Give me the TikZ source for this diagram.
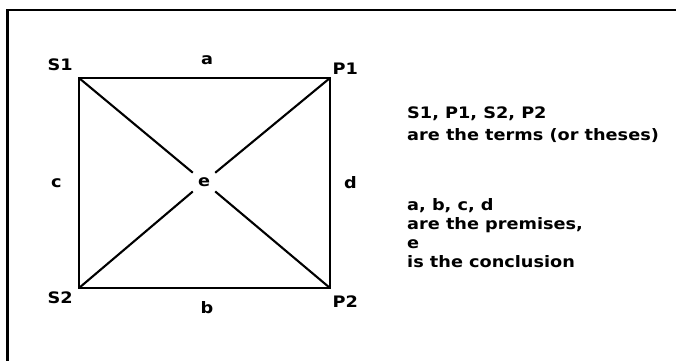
\documentclass[tikz,border=0pt]{standalone}
\usepackage{fontspec}
\setmainfont{DejaVu Sans}[FakeStretch=1.12]
\usepackage{tikz}
\usetikzlibrary{positioning}
\newcommand{\squarefont}{\fontsize{15.8}{19}\selectfont\bfseries}
\tikzset{
  cornerlabel/.style={
    inner sep=0pt,
    font=\squarefont
  },
  edgelabel/.style={
    inner sep=0pt,
    font=\squarefont
  },
  centerlabel/.style={
    rectangle,
    minimum size=22pt,
    inner sep=0pt,
    font=\squarefont
  },
  notetext/.style={
    align=left,
    anchor=north west,
    inner sep=0pt,
    font=\squarefont
  },
  sideline/.style={
    line width=2.8pt,
    draw=black
  },
  diagline/.style={
    line width=2.1pt,
    draw=black
  },
  frameline/.style={
    line width=2.3pt,
    draw=black
  }
}

\begin{document}
\begin{tikzpicture}[x=1pt,y=1pt]
\useasboundingbox (0,0) rectangle (676,360);
\draw[frameline] (7.5,-10) -- (7.5,350) -- (690,350);

\coordinate (S1) at (79,282);
\coordinate (P1) at (330,282);
\coordinate (S2) at (79,72);
\coordinate (P2) at (330,72);
\node[centerlabel] (e) at (204,178) {e};

\node[cornerlabel, above left=7pt and 6pt of S1] (s1label) {S1};
\node[cornerlabel, above right=3pt and 2.5pt of P1] (p1label) {P1};
\node[cornerlabel, below left=4pt and 6pt of S2] (s2label) {S2};
\node[cornerlabel, below right=8pt and 2.5pt of P2] (p2label) {P2};

\draw[sideline] (S1) -- node[edgelabel, above=12pt, xshift=2.5pt] (a) {a} (P1)
  -- node[edgelabel, right=12.7pt] (d) {d} (P2)
  -- node[edgelabel, below=12pt, xshift=2.5pt] (b) {b} (S2)
  -- node[edgelabel, left=16pt] (c) {c} cycle;

\draw[diagline] (S1) -- (e);
\draw[diagline] (P1) -- (e);
\draw[diagline] (S2) -- (e);
\draw[diagline] (P2) -- (e);

\node[notetext, font=\fontsize{15.8}{22.5}\selectfont\bfseries] (terms) at (407,253.5)
  {S1, P1, S2, P2\\are the terms (or theses)};
\node[notetext] (premises) at (407,162) {a, b, c, d\\are the premises,\\e\\is the conclusion};
\end{tikzpicture}
\end{document}
